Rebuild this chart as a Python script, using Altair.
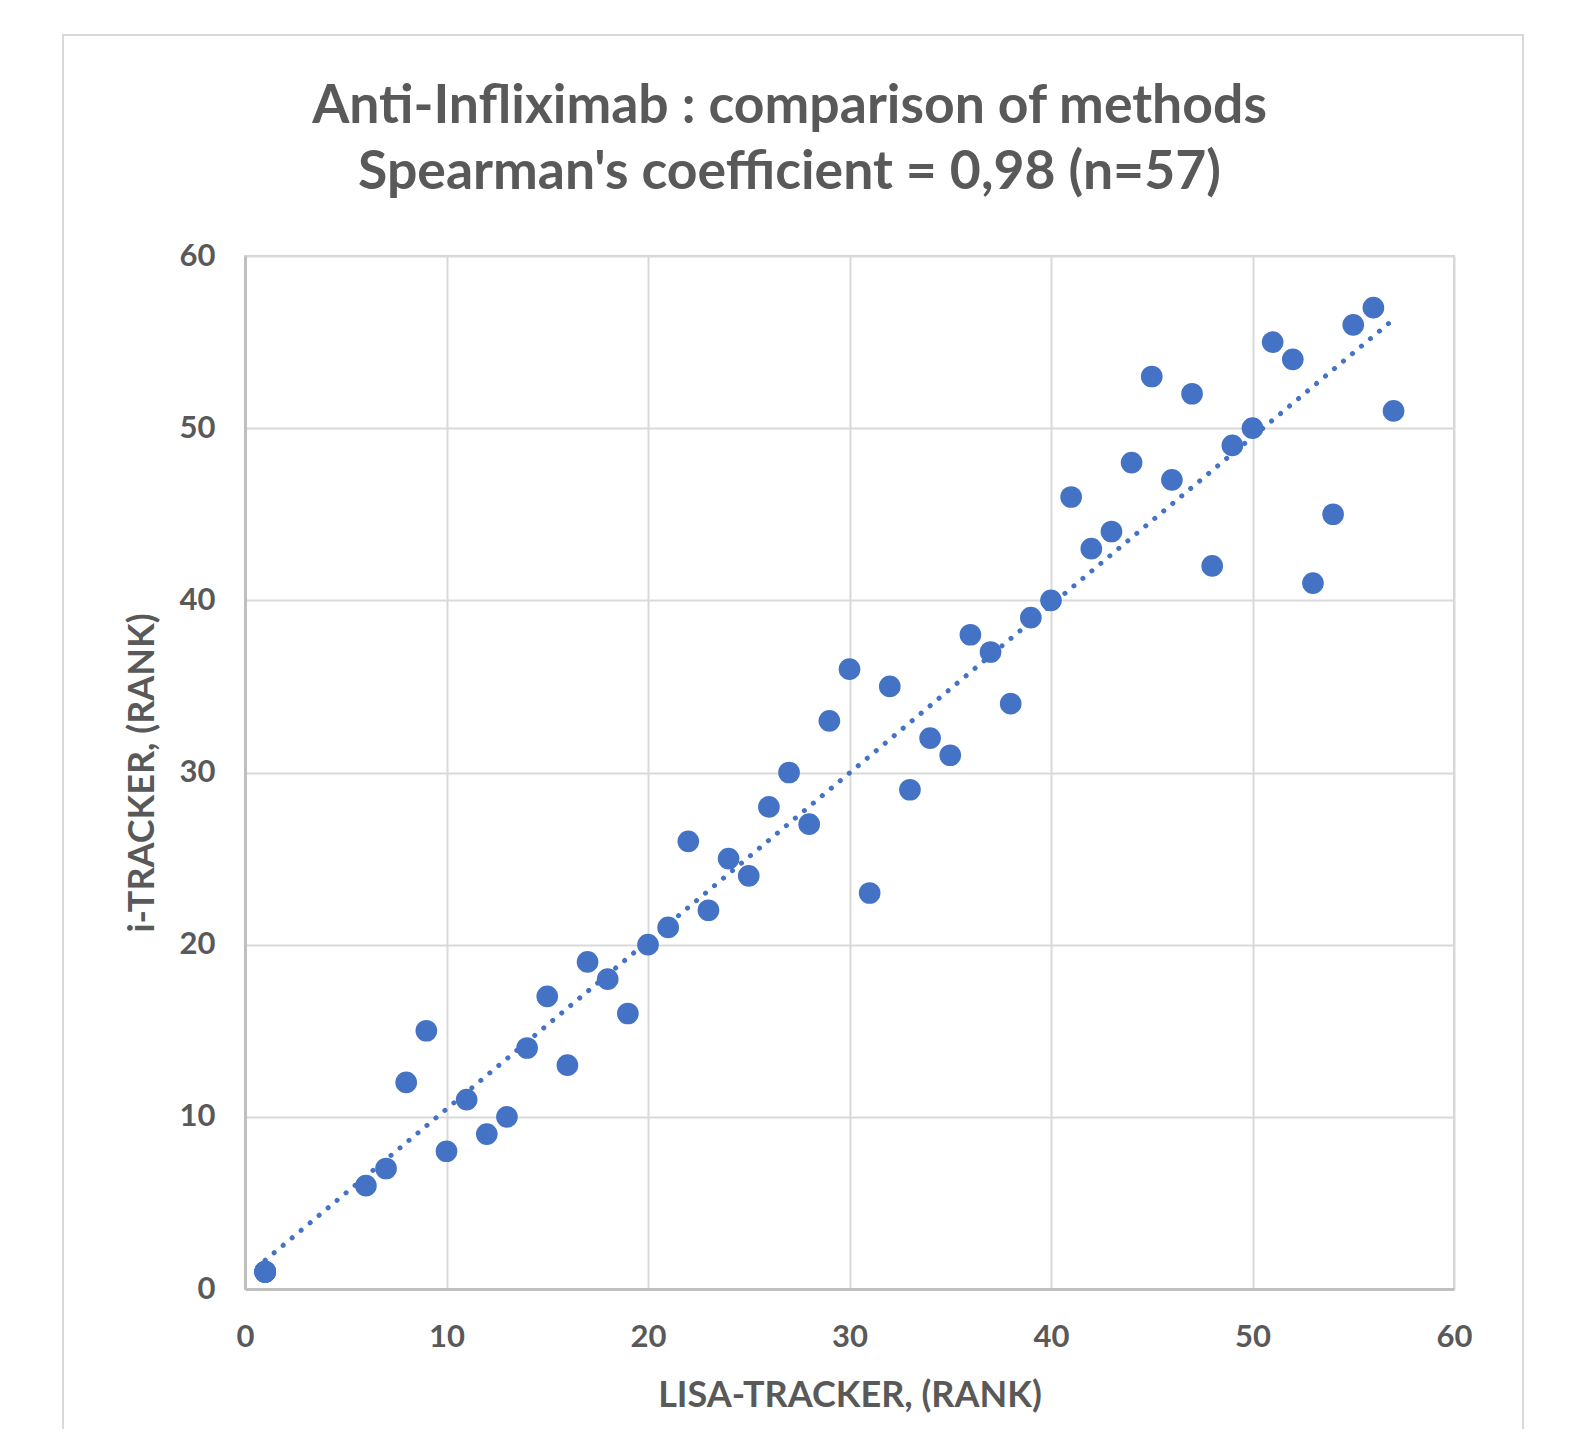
import altair as alt
import pandas as pd

# LISA-TRACKER rank (x) and i-TRACKER rank (y); Excel RANK ties -> five points at (1,1)
lisa_rank = [1, 1, 1, 1, 1, 6, 7, 8, 9, 10, 11, 12, 13, 14, 15, 16, 17, 18, 19, 20,
             21, 22, 23, 24, 25, 26, 27, 28, 29, 30, 31, 32, 33, 34, 35, 36, 37, 38,
             39, 40, 41, 42, 43, 44, 45, 46, 47, 48, 49, 50, 51, 52, 53, 54, 55, 56, 57]
itracker_rank = [1, 1, 1, 1, 1, 6, 7, 12, 15, 8, 11, 9, 10, 14, 17, 13, 19, 18, 16, 20,
                 21, 26, 22, 25, 24, 28, 30, 27, 33, 36, 23, 35, 29, 32, 31, 38, 37, 34,
                 39, 40, 46, 43, 44, 48, 53, 47, 52, 42, 49, 50, 55, 54, 41, 45, 56, 57, 51]
axis_ticks = [0, 10, 20, 30, 40, 50, 60]

title_lines = ["Anti-Infliximab : comparison of methods",
               "Spearman's coefficient = 0,98 (n=57)"]
x_title = "LISA-TRACKER, (RANK)"
y_title = "i-TRACKER, (RANK)"

df = pd.DataFrame({"lisa": lisa_rank, "itr": itracker_rank})

FONT = "Lato"
TXT = "#595959"
BLUE = "#4472C4"

xs = alt.Scale(domain=[0, 60], nice=False, zero=False)
ys = alt.Scale(domain=[0, 60], nice=False, zero=False)

x_axis = alt.Axis(values=axis_ticks, title=x_title, grid=True, ticks=False, labelFlush=False,
                  labelFont=FONT, labelFontSize=31, labelFontWeight="bold", labelColor=TXT,
                  labelPadding=33, titleFont=FONT, titleFontSize=36, titleFontWeight="bold",
                  titleColor=TXT, titlePadding=26, domainColor="#bfbfbf", domainWidth=3)
y_axis = alt.Axis(values=axis_ticks, title=y_title, grid=True, ticks=False, labelFlush=False,
                  labelFont=FONT, labelFontSize=31, labelFontWeight="bold", labelColor=TXT,
                  labelPadding=30, titleFont=FONT, titleFontSize=36, titleFontWeight="bold",
                  titleColor=TXT, titlePadding=18, domainColor="#bfbfbf", domainWidth=3)

frame = alt.Chart(alt.Data(values=[{}])).mark_rect(
    fill=None, stroke="#d9d9d9", strokeWidth=2
).encode(
    x=alt.value(-182), x2=alt.value(1278), y=alt.value(-221), y2=alt.value(1230)
)

pts = alt.Chart(df).mark_circle(size=470, color=BLUE, opacity=1).encode(
    x=alt.X("lisa:Q", scale=xs, axis=x_axis),
    y=alt.Y("itr:Q", scale=ys, axis=y_axis),
)

trend = alt.Chart(df).transform_regression("lisa", "itr").mark_line(
    color=BLUE, strokeWidth=5, strokeDash=[0.1, 11.6], strokeCap="round"
).encode(x=alt.X("lisa:Q", scale=xs), y=alt.Y("itr:Q", scale=ys))

chart = alt.layer(frame, trend, pts).properties(
    width=1209, height=1033,
    autosize=alt.AutoSizeParams(type="none"),
    padding={"left": 237, "top": 248, "right": 80, "bottom": 140},
    title=alt.TitleParams(text=title_lines, font=FONT, fontSize=53.5, fontWeight="bold",
                          color=TXT, anchor="middle", dx=-60, offset=-166, lineHeight=66),
).configure_view(stroke="#d0d0d0", strokeWidth=2).configure_axis(
    gridColor="#d9d9d9", gridWidth=2
)

chart.save("out.html", embed_options={"renderer": "svg", "actions": False})
